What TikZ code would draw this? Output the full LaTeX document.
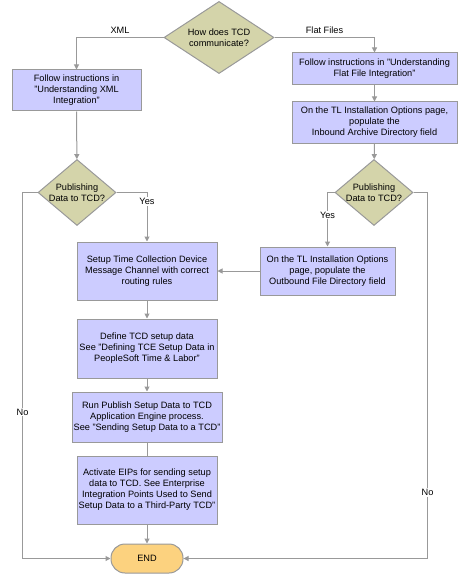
\documentclass[tikz,border=0pt]{standalone}
\usepackage{fontspec}
\setmainfont{Liberation Sans}
\usetikzlibrary{shapes.geometric,arrows.meta}
\definecolor{boxblue}{RGB}{204,204,255}
\definecolor{linegray}{RGB}{153,153,153}
\definecolor{khaki}{RGB}{212,212,170}
\definecolor{endorange}{RGB}{252,210,127}

\begin{document}
\begin{tikzpicture}[
    x=1pt, y=-1pt,
    every node/.style={font=\fontsize{9.2}{11}\selectfont, align=center, inner sep=1pt},
    box/.style={rectangle, draw=linegray, fill=boxblue, line width=1pt},
    decision/.style={diamond, draw=linegray, fill=khaki, line width=1pt, inner sep=-2pt},
    term/.style={rectangle, rounded corners=14pt, draw=linegray, fill=endorange, line width=1pt, minimum width=72pt, minimum height=29pt},
    flow/.style={draw=linegray, line width=1pt},
    arr/.style={flow, -{Triangle[width=5pt,length=5pt]}},
    tag/.style={fill=white, inner sep=1pt}
  ]
  \useasboundingbox (0,0) rectangle (459,575);

  \node[decision, minimum width=110pt, minimum height=71pt] (how) at (219,37.5) {How does TCD\\communicate?};
  \node[box, minimum width=129pt, minimum height=41pt] (xml) at (76.5,90.5) {Follow instructions in\\"Understanding XML\\Integration"};
  \node[box, minimum width=165pt, minimum height=32pt] (flat) at (374.5,69) {Follow instructions in "Understanding\\Flat File Integration"};
  \node[box, minimum width=165pt, minimum height=41pt] (inbound) at (374.5,122.5) {On the TL Installation Options page,\\populate the\\Inbound Archive Directory field};
  \node[decision, minimum width=78pt, minimum height=59pt] (pubxml) at (77,192.5) {Publishing\\Data to TCD?};
  \node[decision, minimum width=78pt, minimum height=59pt] (pubflat) at (374,192.5) {Publishing\\Data to TCD?};
  \node[box, minimum width=140pt, minimum height=58pt] (channel) at (147,271) {Setup Time Collection Device\\Message Channel with correct\\routing rules};
  \node[box, minimum width=135pt, minimum height=48pt] (outbound) at (327.5,271) {On the TL Installation Options\\page, populate the\\Outbound File Directory field};
  \node[box, minimum width=140pt, minimum height=59pt] (define) at (147,348.5) {Define TCD setup data\\See "Defining TCE Setup Data in\\PeopleSoft Time \& Labor"};
  \node[box, minimum width=150pt, minimum height=50pt] (publish) at (147,417) {Run Publish Setup Data to TCD\\Application Engine process.\\See "Sending Setup Data to a TCD"};
  \node[box, minimum width=140pt, minimum height=68pt] (eip) at (147,490) {Activate EIPs for sending setup\\data to TCD. See Enterprise\\Integration Points Used to Send\\Setup Data to a Third-Party TCD"};
  \node[term] (end) at (147,558.5) {END};

  % connectors
  \draw[arr] (how.west) -| node[pos=0.25, above=2pt] {XML} (xml.north);
  \draw[arr] (how.east) -| node[pos=0.25, above=2pt] {Flat Files} (flat.north);
  \draw[arr] (flat) -- (inbound);
  \draw[arr] (inbound) -- (pubflat);
  \draw[arr] (xml) -- (pubxml);
  \draw[arr] (pubxml.east) -| node[tag, pos=0.59] {Yes} (channel.north);
  \draw[arr] (pubflat.west) -| node[tag, pos=0.71] {Yes} (outbound.north);
  \draw[arr] (outbound) -- (channel);
  \draw[arr] (channel) -- (define);
  \draw[arr] (define) -- (publish);
  \draw[flow] (publish) -- (eip);
  \draw[arr] (eip) -- (end);
  \draw[arr] (pubxml.west) -- ++(-15,0) |- node[tag, pos=0.3] {No} (end.west);
  \draw[arr] (pubflat.east) -- ++(14,0) |- node[tag, pos=0.41] {No} (end.east);
\end{tikzpicture}
\end{document}
